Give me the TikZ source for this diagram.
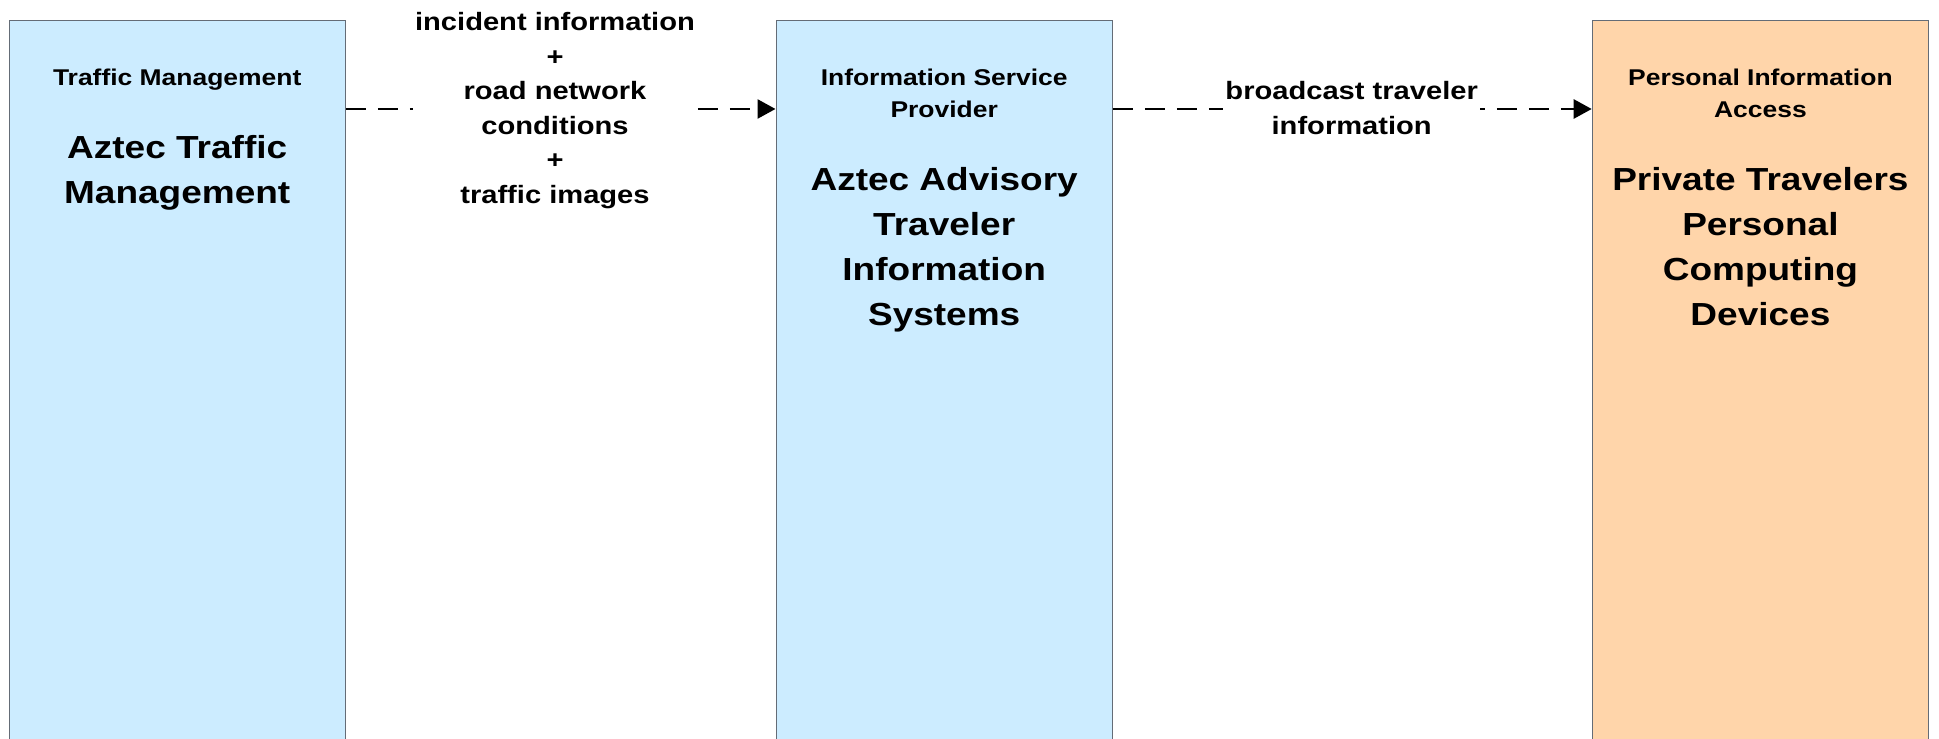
\documentclass[tikz,border=0pt]{standalone}
\usepackage{fontspec}
\setmainfont{Liberation Sans}[FakeStretch=1.16]
\usepackage{tikz}
\usetikzlibrary{arrows.meta}

\definecolor{sysblue}{RGB}{204,236,255}
\definecolor{sysorange}{RGB}{255,213,170}
\definecolor{boxline}{RGB}{100,108,118}

\tikzset{
  sysbox/.style={draw=boxline, line width=1.4pt, rectangle, anchor=north west,
    minimum width=336pt, minimum height=760pt, inner sep=0pt},
  hdr/.style={anchor=base, align=center, font=\bfseries\fontsize{22.8}{32}\selectfont},
  sysname/.style={anchor=base, align=center, font=\bfseries\fontsize{31.9}{45}\selectfont},
  flowlbl/.style={anchor=base, align=center, fill=white, inner xsep=2pt, inner ysep=0pt,
    font=\bfseries\fontsize{25.1}{34.5}\selectfont},
  flow/.style={line width=2.6pt, dash pattern=on 20pt off 12pt,
    -{Triangle[length=18pt,width=19pt]}}
}

\begin{document}
\begin{tikzpicture}[x=1pt,y=1pt]
  \useasboundingbox (0,0) rectangle (1939,739);

  \node[sysbox, fill=sysblue]   (tm)  at (8.5,719)    {};
  \node[sysbox, fill=sysblue]   (isp) at (775.5,719)  {};
  \node[sysbox, fill=sysorange] (pia) at (1591.7,719) {};

  % base = baseline of the last line
  \node[hdr]     (tm-hdr)   at ([yshift=-66pt]tm.north)     {Traffic Management};
  \node[sysname] (tm-name)  at ([yshift=-183.5pt]tm.north)  {Aztec Traffic\\Management};
  \node[hdr]     (isp-hdr)  at ([yshift=-98pt]isp.north)    {Information Service\\Provider};
  \node[sysname] (isp-name) at ([yshift=-305.5pt]isp.north) {Aztec Advisory\\Traveler\\Information\\Systems};
  \node[hdr]     (pia-hdr)  at ([yshift=-98pt]pia.north)    {Personal Information\\Access};
  \node[sysname] (pia-name) at ([yshift=-305.5pt]pia.north) {Private Travelers\\Personal\\Computing\\Devices};

  % flows
  \coordinate (tm-out)  at ([yshift=-89pt]tm.north east);
  \coordinate (isp-in)  at ([yshift=-89pt]isp.north west);
  \coordinate (isp-out) at ([yshift=-89pt]isp.north east);
  \coordinate (pia-in)  at ([yshift=-89pt]pia.north west);

  \draw[flow] (tm-out)  -- (isp-in);
  \draw[flow] (isp-out) -- (pia-in);

  \node[flowlbl] (tm-isp)  at (555,535.5)    {incident information\\+\\road network\\conditions\\+\\traffic images};
  \node[flowlbl] (isp-pia) at (1351.7,604.5) {broadcast traveler\\information};
\end{tikzpicture}
\end{document}
